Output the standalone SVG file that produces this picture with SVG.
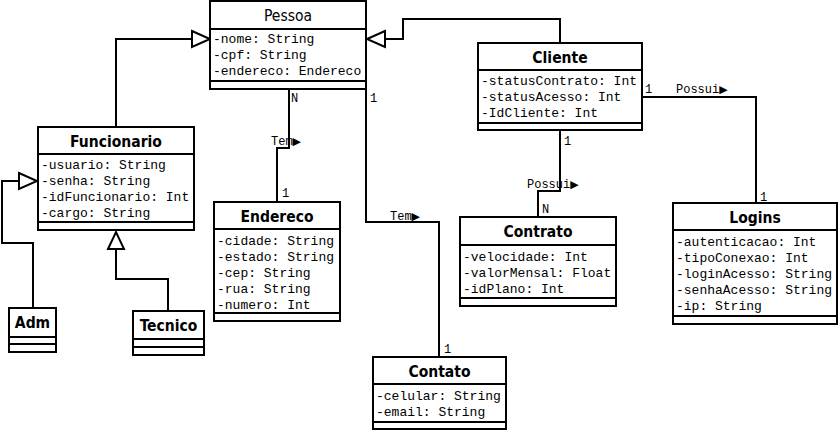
<svg xmlns="http://www.w3.org/2000/svg" width="840" height="431" viewBox="0 0 840 431">
<style>
.box{fill:#fff;stroke:#000;stroke-width:2}
.sep{stroke:#000;stroke-width:2}
.t{font-family:"DejaVu Sans Condensed","DejaVu Sans",sans-serif;font-size:15.5px;font-weight:bold;text-anchor:middle;fill:#000}
.tn{font-weight:normal}
.a{font-family:"Liberation Mono",monospace;font-size:13px;fill:#000}
.c{fill:none;stroke:#000;stroke-width:2}
.l{font-family:"Liberation Mono",monospace;font-size:12px;fill:#000}
.ar{font-family:"DejaVu Sans",sans-serif;font-size:11px}
.tri{fill:#fff;stroke:#000;stroke-width:2}
</style>
<rect width="840" height="431" fill="#fff"/>
<g id="connectors">
  <polyline class="c" points="116,127 116,39 192,39"/>
  <polygon class="tri" points="192,31 210,39 192,47"/>
  <polyline class="c" points="560,43 560,19 403,19 403,39 385,39"/>
  <polygon class="tri" points="385,31 367,39 385,47"/>
  <polyline class="c" points="33,308 33,243 2,243 2,181 19,181"/>
  <polygon class="tri" points="19,173 37,181 19,189"/>
  <polyline class="c" points="168,311 168,279 116,279 116,249"/>
  <polygon class="tri" points="108,249 116,232 124,249"/>
  <polyline class="c" points="289,89 289,148 277,148 277,202"/>
  <polyline class="c" points="366,89 366,222 439,222 439,357"/>
  <polyline class="c" points="642,97 756,97 756,203"/>
  <polyline class="c" points="560,130 560,191 538,191 538,217"/>
  <text class="l" x="291" y="102">N</text>
  <text class="l" x="370" y="102">1</text>
  <text class="l" x="271" y="145">Tem<tspan class="ar">▶</tspan></text>
  <text class="l" x="282" y="197">1</text>
  <text class="l" x="390" y="220">Tem<tspan class="ar">▶</tspan></text>
  <text class="l" x="444" y="353">1</text>
  <text class="l" x="645" y="93">1</text>
  <text class="l" x="676" y="93">Possui<tspan class="ar">▶</tspan></text>
  <text class="l" x="760" y="201">1</text>
  <text class="l" x="564" y="145">1</text>
  <text class="l" x="527" y="188">Possui<tspan class="ar">▶</tspan></text>
  <text class="l" x="542" y="213">N</text>
</g>
<g id="Pessoa">
  <rect class="box" x="210" y="1" width="156" height="88"/>
  <line class="sep" x1="210" y1="29" x2="366" y2="29"/>
  <line class="sep" x1="210" y1="81" x2="366" y2="81"/>
  <text class="t tn" x="288" y="21">Pessoa</text>
  <text class="a" x="213" y="43">-nome: String</text>
  <text class="a" x="213" y="59">-cpf: String</text>
  <text class="a" x="213" y="75">-endereco: Endereco</text>
</g>
<g id="Funcionario">
  <rect class="box" x="38" y="127" width="156" height="103"/>
  <line class="sep" x1="38" y1="154" x2="194" y2="154"/>
  <line class="sep" x1="38" y1="222" x2="194" y2="222"/>
  <text class="t" x="116" y="147">Funcionario</text>
  <text class="a" x="41" y="169">-usuario: String</text>
  <text class="a" x="41" y="185">-senha: String</text>
  <text class="a" x="41" y="201">-idFuncionario: Int</text>
  <text class="a" x="41" y="217">-cargo: String</text>
</g>
<g id="Adm">
  <rect class="box" x="9" y="308" width="47" height="44"/>
  <line class="sep" x1="9" y1="337" x2="56" y2="337"/>
  <line class="sep" x1="9" y1="344" x2="56" y2="344"/>
  <text class="t" x="32.5" y="328">Adm</text>
</g>
<g id="Tecnico">
  <rect class="box" x="133" y="311" width="71" height="44"/>
  <line class="sep" x1="133" y1="339" x2="204" y2="339"/>
  <line class="sep" x1="133" y1="347" x2="204" y2="347"/>
  <text class="t" x="168.5" y="331">Tecnico</text>
</g>
<g id="Cliente">
  <rect class="box" x="478" y="43" width="164" height="87"/>
  <line class="sep" x1="478" y1="70" x2="642" y2="70"/>
  <line class="sep" x1="478" y1="123" x2="642" y2="123"/>
  <text class="t" x="560" y="63">Cliente</text>
  <text class="a" x="481" y="85">-statusContrato: Int</text>
  <text class="a" x="481" y="101">-statusAcesso: Int</text>
  <text class="a" x="481" y="117">-IdCliente: Int</text>
</g>
<g id="Endereco">
  <rect class="box" x="214" y="202" width="126" height="119"/>
  <line class="sep" x1="214" y1="229" x2="340" y2="229"/>
  <line class="sep" x1="214" y1="313" x2="340" y2="313"/>
  <text class="t" x="277" y="222">Endereco</text>
  <text class="a" x="217" y="245">-cidade: String</text>
  <text class="a" x="217" y="261">-estado: String</text>
  <text class="a" x="217" y="277">-cep: String</text>
  <text class="a" x="217" y="293">-rua: String</text>
  <text class="a" x="217" y="309">-numero: Int</text>
</g>
<g id="Contrato">
  <rect class="box" x="460" y="217" width="156" height="89"/>
  <line class="sep" x1="460" y1="245" x2="616" y2="245"/>
  <line class="sep" x1="460" y1="298" x2="616" y2="298"/>
  <text class="t" x="538" y="237">Contrato</text>
  <text class="a" x="463" y="261">-velocidade: Int</text>
  <text class="a" x="463" y="277">-valorMensal: Float</text>
  <text class="a" x="463" y="293">-idPlano: Int</text>
</g>
<g id="Logins">
  <rect class="box" x="673" y="203" width="164" height="121"/>
  <line class="sep" x1="673" y1="230" x2="837" y2="230"/>
  <line class="sep" x1="673" y1="316" x2="837" y2="316"/>
  <text class="t" x="755" y="223">Logins</text>
  <text class="a" x="676" y="246">-autenticacao: Int</text>
  <text class="a" x="676" y="262">-tipoConexao: Int</text>
  <text class="a" x="676" y="278">-loginAcesso: String</text>
  <text class="a" x="676" y="294">-senhaAcesso: String</text>
  <text class="a" x="676" y="310">-ip: String</text>
</g>
<g id="Contato">
  <rect class="box" x="373" y="357" width="133" height="72"/>
  <line class="sep" x1="373" y1="384" x2="506" y2="384"/>
  <line class="sep" x1="373" y1="422" x2="506" y2="422"/>
  <text class="t" x="439.5" y="377">Contato</text>
  <text class="a" x="376" y="400">-celular: String</text>
  <text class="a" x="376" y="416">-email: String</text>
</g>
</svg>
